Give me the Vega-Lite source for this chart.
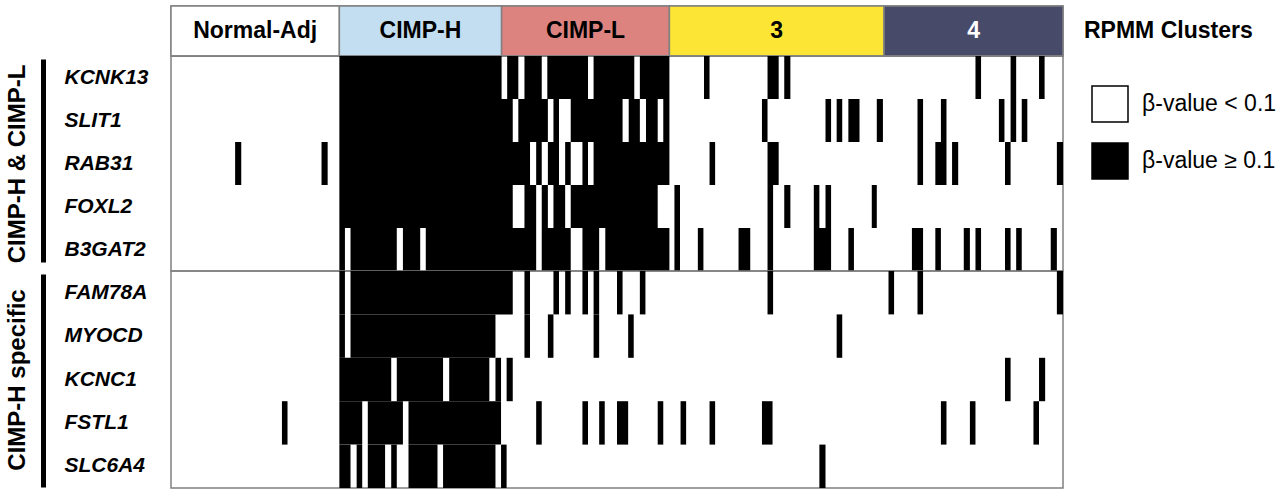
{
  "$schema": "https://vega.github.io/schema/vega-lite/v6.json",
  "padding": {"left": 4, "top": 4, "right": 2, "bottom": 4},
  "background": "white",
  "config": {
    "view": {"stroke": "#808080", "strokeWidth": 1.5},
    "font": "Liberation Sans",
    "text": {"font": "Liberation Sans"}
  },
  "datasets": {
    "clusters": [
      {"cluster": "Normal-Adj", "start": 0, "end": 30.2},
      {"cluster": "CIMP-H", "start": 30.2, "end": 59.3},
      {"cluster": "CIMP-L", "start": 59.3, "end": 89.4},
      {"cluster": "3", "start": 89.4, "end": 127.9},
      {"cluster": "4", "start": 127.9, "end": 160}
    ],
    "segments": [
      {"group": "CIMP-H & CIMP-L", "gene": "KCNK13", "start": 30.2, "end": 59.3, "beta": "β-value ≥ 0.1"},
      {"group": "CIMP-H & CIMP-L", "gene": "KCNK13", "start": 60.3, "end": 62.3, "beta": "β-value ≥ 0.1"},
      {"group": "CIMP-H & CIMP-L", "gene": "KCNK13", "start": 63.4, "end": 66.5, "beta": "β-value ≥ 0.1"},
      {"group": "CIMP-H & CIMP-L", "gene": "KCNK13", "start": 67.5, "end": 74.8, "beta": "β-value ≥ 0.1"},
      {"group": "CIMP-H & CIMP-L", "gene": "KCNK13", "start": 75.8, "end": 83.1, "beta": "β-value ≥ 0.1"},
      {"group": "CIMP-H & CIMP-L", "gene": "KCNK13", "start": 84.1, "end": 89.4, "beta": "β-value ≥ 0.1"},
      {"group": "CIMP-H & CIMP-L", "gene": "KCNK13", "start": 95.6, "end": 96.6, "beta": "β-value ≥ 0.1"},
      {"group": "CIMP-H & CIMP-L", "gene": "KCNK13", "start": 107.0, "end": 109.0, "beta": "β-value ≥ 0.1"},
      {"group": "CIMP-H & CIMP-L", "gene": "KCNK13", "start": 110.0, "end": 111.1, "beta": "β-value ≥ 0.1"},
      {"group": "CIMP-H & CIMP-L", "gene": "KCNK13", "start": 144.3, "end": 145.3, "beta": "β-value ≥ 0.1"},
      {"group": "CIMP-H & CIMP-L", "gene": "KCNK13", "start": 150.6, "end": 151.6, "beta": "β-value ≥ 0.1"},
      {"group": "CIMP-H & CIMP-L", "gene": "KCNK13", "start": 155.7, "end": 156.7, "beta": "β-value ≥ 0.1"},

      {"group": "CIMP-H & CIMP-L", "gene": "SLIT1", "start": 30.2, "end": 61.3, "beta": "β-value ≥ 0.1"},
      {"group": "CIMP-H & CIMP-L", "gene": "SLIT1", "start": 62.3, "end": 67.6, "beta": "β-value ≥ 0.1"},
      {"group": "CIMP-H & CIMP-L", "gene": "SLIT1", "start": 68.6, "end": 69.6, "beta": "β-value ≥ 0.1"},
      {"group": "CIMP-H & CIMP-L", "gene": "SLIT1", "start": 71.7, "end": 81.0, "beta": "β-value ≥ 0.1"},
      {"group": "CIMP-H & CIMP-L", "gene": "SLIT1", "start": 82.1, "end": 84.1, "beta": "β-value ≥ 0.1"},
      {"group": "CIMP-H & CIMP-L", "gene": "SLIT1", "start": 85.2, "end": 87.3, "beta": "β-value ≥ 0.1"},
      {"group": "CIMP-H & CIMP-L", "gene": "SLIT1", "start": 88.3, "end": 89.4, "beta": "β-value ≥ 0.1"},
      {"group": "CIMP-H & CIMP-L", "gene": "SLIT1", "start": 106.0, "end": 107.0, "beta": "β-value ≥ 0.1"},
      {"group": "CIMP-H & CIMP-L", "gene": "SLIT1", "start": 117.4, "end": 118.4, "beta": "β-value ≥ 0.1"},
      {"group": "CIMP-H & CIMP-L", "gene": "SLIT1", "start": 119.4, "end": 120.4, "beta": "β-value ≥ 0.1"},
      {"group": "CIMP-H & CIMP-L", "gene": "SLIT1", "start": 121.5, "end": 123.5, "beta": "β-value ≥ 0.1"},
      {"group": "CIMP-H & CIMP-L", "gene": "SLIT1", "start": 126.6, "end": 127.7, "beta": "β-value ≥ 0.1"},
      {"group": "CIMP-H & CIMP-L", "gene": "SLIT1", "start": 133.9, "end": 134.9, "beta": "β-value ≥ 0.1"},
      {"group": "CIMP-H & CIMP-L", "gene": "SLIT1", "start": 138.1, "end": 139.1, "beta": "β-value ≥ 0.1"},
      {"group": "CIMP-H & CIMP-L", "gene": "SLIT1", "start": 148.5, "end": 149.5, "beta": "β-value ≥ 0.1"},
      {"group": "CIMP-H & CIMP-L", "gene": "SLIT1", "start": 150.6, "end": 151.6, "beta": "β-value ≥ 0.1"},
      {"group": "CIMP-H & CIMP-L", "gene": "SLIT1", "start": 152.6, "end": 153.6, "beta": "β-value ≥ 0.1"},

      {"group": "CIMP-H & CIMP-L", "gene": "RAB31", "start": 11.5, "end": 12.6, "beta": "β-value ≥ 0.1"},
      {"group": "CIMP-H & CIMP-L", "gene": "RAB31", "start": 27.0, "end": 28.1, "beta": "β-value ≥ 0.1"},
      {"group": "CIMP-H & CIMP-L", "gene": "RAB31", "start": 30.2, "end": 64.4, "beta": "β-value ≥ 0.1"},
      {"group": "CIMP-H & CIMP-L", "gene": "RAB31", "start": 65.5, "end": 66.5, "beta": "β-value ≥ 0.1"},
      {"group": "CIMP-H & CIMP-L", "gene": "RAB31", "start": 67.6, "end": 69.6, "beta": "β-value ≥ 0.1"},
      {"group": "CIMP-H & CIMP-L", "gene": "RAB31", "start": 70.7, "end": 71.7, "beta": "β-value ≥ 0.1"},
      {"group": "CIMP-H & CIMP-L", "gene": "RAB31", "start": 73.8, "end": 74.8, "beta": "β-value ≥ 0.1"},
      {"group": "CIMP-H & CIMP-L", "gene": "RAB31", "start": 75.8, "end": 89.4, "beta": "β-value ≥ 0.1"},
      {"group": "CIMP-H & CIMP-L", "gene": "RAB31", "start": 96.6, "end": 97.6, "beta": "β-value ≥ 0.1"},
      {"group": "CIMP-H & CIMP-L", "gene": "RAB31", "start": 107.0, "end": 109.0, "beta": "β-value ≥ 0.1"},
      {"group": "CIMP-H & CIMP-L", "gene": "RAB31", "start": 133.9, "end": 134.9, "beta": "β-value ≥ 0.1"},
      {"group": "CIMP-H & CIMP-L", "gene": "RAB31", "start": 137.1, "end": 139.1, "beta": "β-value ≥ 0.1"},
      {"group": "CIMP-H & CIMP-L", "gene": "RAB31", "start": 140.1, "end": 141.2, "beta": "β-value ≥ 0.1"},
      {"group": "CIMP-H & CIMP-L", "gene": "RAB31", "start": 149.6, "end": 150.6, "beta": "β-value ≥ 0.1"},
      {"group": "CIMP-H & CIMP-L", "gene": "RAB31", "start": 158.9, "end": 160, "beta": "β-value ≥ 0.1"},

      {"group": "CIMP-H & CIMP-L", "gene": "FOXL2", "start": 30.2, "end": 61.3, "beta": "β-value ≥ 0.1"},
      {"group": "CIMP-H & CIMP-L", "gene": "FOXL2", "start": 63.4, "end": 65.5, "beta": "β-value ≥ 0.1"},
      {"group": "CIMP-H & CIMP-L", "gene": "FOXL2", "start": 66.5, "end": 67.6, "beta": "β-value ≥ 0.1"},
      {"group": "CIMP-H & CIMP-L", "gene": "FOXL2", "start": 68.6, "end": 70.7, "beta": "β-value ≥ 0.1"},
      {"group": "CIMP-H & CIMP-L", "gene": "FOXL2", "start": 71.7, "end": 87.3, "beta": "β-value ≥ 0.1"},
      {"group": "CIMP-H & CIMP-L", "gene": "FOXL2", "start": 90.3, "end": 91.3, "beta": "β-value ≥ 0.1"},
      {"group": "CIMP-H & CIMP-L", "gene": "FOXL2", "start": 107.0, "end": 108.0, "beta": "β-value ≥ 0.1"},
      {"group": "CIMP-H & CIMP-L", "gene": "FOXL2", "start": 110.0, "end": 111.1, "beta": "β-value ≥ 0.1"},
      {"group": "CIMP-H & CIMP-L", "gene": "FOXL2", "start": 115.3, "end": 116.3, "beta": "β-value ≥ 0.1"},
      {"group": "CIMP-H & CIMP-L", "gene": "FOXL2", "start": 117.4, "end": 118.4, "beta": "β-value ≥ 0.1"},
      {"group": "CIMP-H & CIMP-L", "gene": "FOXL2", "start": 125.7, "end": 126.6, "beta": "β-value ≥ 0.1"},

      {"group": "CIMP-H & CIMP-L", "gene": "B3GAT2", "start": 30.2, "end": 31.2, "beta": "β-value ≥ 0.1"},
      {"group": "CIMP-H & CIMP-L", "gene": "B3GAT2", "start": 32.2, "end": 40.5, "beta": "β-value ≥ 0.1"},
      {"group": "CIMP-H & CIMP-L", "gene": "B3GAT2", "start": 41.6, "end": 44.7, "beta": "β-value ≥ 0.1"},
      {"group": "CIMP-H & CIMP-L", "gene": "B3GAT2", "start": 45.7, "end": 65.5, "beta": "β-value ≥ 0.1"},
      {"group": "CIMP-H & CIMP-L", "gene": "B3GAT2", "start": 66.5, "end": 71.7, "beta": "β-value ≥ 0.1"},
      {"group": "CIMP-H & CIMP-L", "gene": "B3GAT2", "start": 73.8, "end": 76.8, "beta": "β-value ≥ 0.1"},
      {"group": "CIMP-H & CIMP-L", "gene": "B3GAT2", "start": 77.9, "end": 89.4, "beta": "β-value ≥ 0.1"},
      {"group": "CIMP-H & CIMP-L", "gene": "B3GAT2", "start": 90.3, "end": 91.3, "beta": "β-value ≥ 0.1"},
      {"group": "CIMP-H & CIMP-L", "gene": "B3GAT2", "start": 94.5, "end": 95.5, "beta": "β-value ≥ 0.1"},
      {"group": "CIMP-H & CIMP-L", "gene": "B3GAT2", "start": 101.8, "end": 103.9, "beta": "β-value ≥ 0.1"},
      {"group": "CIMP-H & CIMP-L", "gene": "B3GAT2", "start": 107.0, "end": 108.0, "beta": "β-value ≥ 0.1"},
      {"group": "CIMP-H & CIMP-L", "gene": "B3GAT2", "start": 115.3, "end": 118.4, "beta": "β-value ≥ 0.1"},
      {"group": "CIMP-H & CIMP-L", "gene": "B3GAT2", "start": 121.5, "end": 122.5, "beta": "β-value ≥ 0.1"},
      {"group": "CIMP-H & CIMP-L", "gene": "B3GAT2", "start": 132.9, "end": 134.9, "beta": "β-value ≥ 0.1"},
      {"group": "CIMP-H & CIMP-L", "gene": "B3GAT2", "start": 137.1, "end": 138.1, "beta": "β-value ≥ 0.1"},
      {"group": "CIMP-H & CIMP-L", "gene": "B3GAT2", "start": 142.2, "end": 143.3, "beta": "β-value ≥ 0.1"},
      {"group": "CIMP-H & CIMP-L", "gene": "B3GAT2", "start": 144.3, "end": 145.3, "beta": "β-value ≥ 0.1"},
      {"group": "CIMP-H & CIMP-L", "gene": "B3GAT2", "start": 149.6, "end": 150.6, "beta": "β-value ≥ 0.1"},
      {"group": "CIMP-H & CIMP-L", "gene": "B3GAT2", "start": 151.6, "end": 152.6, "beta": "β-value ≥ 0.1"},
      {"group": "CIMP-H & CIMP-L", "gene": "B3GAT2", "start": 157.8, "end": 158.9, "beta": "β-value ≥ 0.1"},

      {"group": "CIMP-H specific", "gene": "FAM78A", "start": 30.2, "end": 31.2, "beta": "β-value ≥ 0.1"},
      {"group": "CIMP-H specific", "gene": "FAM78A", "start": 32.2, "end": 61.3, "beta": "β-value ≥ 0.1"},
      {"group": "CIMP-H specific", "gene": "FAM78A", "start": 63.4, "end": 64.4, "beta": "β-value ≥ 0.1"},
      {"group": "CIMP-H specific", "gene": "FAM78A", "start": 68.6, "end": 69.6, "beta": "β-value ≥ 0.1"},
      {"group": "CIMP-H specific", "gene": "FAM78A", "start": 70.7, "end": 71.7, "beta": "β-value ≥ 0.1"},
      {"group": "CIMP-H specific", "gene": "FAM78A", "start": 73.8, "end": 74.8, "beta": "β-value ≥ 0.1"},
      {"group": "CIMP-H specific", "gene": "FAM78A", "start": 75.8, "end": 76.8, "beta": "β-value ≥ 0.1"},
      {"group": "CIMP-H specific", "gene": "FAM78A", "start": 80.0, "end": 81.0, "beta": "β-value ≥ 0.1"},
      {"group": "CIMP-H specific", "gene": "FAM78A", "start": 84.1, "end": 85.1, "beta": "β-value ≥ 0.1"},
      {"group": "CIMP-H specific", "gene": "FAM78A", "start": 107.0, "end": 108.0, "beta": "β-value ≥ 0.1"},
      {"group": "CIMP-H specific", "gene": "FAM78A", "start": 128.7, "end": 129.7, "beta": "β-value ≥ 0.1"},
      {"group": "CIMP-H specific", "gene": "FAM78A", "start": 133.9, "end": 134.9, "beta": "β-value ≥ 0.1"},
      {"group": "CIMP-H specific", "gene": "FAM78A", "start": 158.9, "end": 160, "beta": "β-value ≥ 0.1"},

      {"group": "CIMP-H specific", "gene": "MYOCD", "start": 30.2, "end": 31.2, "beta": "β-value ≥ 0.1"},
      {"group": "CIMP-H specific", "gene": "MYOCD", "start": 32.2, "end": 58.2, "beta": "β-value ≥ 0.1"},
      {"group": "CIMP-H specific", "gene": "MYOCD", "start": 63.4, "end": 64.4, "beta": "β-value ≥ 0.1"},
      {"group": "CIMP-H specific", "gene": "MYOCD", "start": 67.6, "end": 68.6, "beta": "β-value ≥ 0.1"},
      {"group": "CIMP-H specific", "gene": "MYOCD", "start": 75.8, "end": 76.8, "beta": "β-value ≥ 0.1"},
      {"group": "CIMP-H specific", "gene": "MYOCD", "start": 82.0, "end": 83.0, "beta": "β-value ≥ 0.1"},
      {"group": "CIMP-H specific", "gene": "MYOCD", "start": 119.4, "end": 120.4, "beta": "β-value ≥ 0.1"},

      {"group": "CIMP-H specific", "gene": "KCNC1", "start": 30.2, "end": 39.5, "beta": "β-value ≥ 0.1"},
      {"group": "CIMP-H specific", "gene": "KCNC1", "start": 40.5, "end": 48.8, "beta": "β-value ≥ 0.1"},
      {"group": "CIMP-H specific", "gene": "KCNC1", "start": 49.9, "end": 57.1, "beta": "β-value ≥ 0.1"},
      {"group": "CIMP-H specific", "gene": "KCNC1", "start": 58.2, "end": 59.2, "beta": "β-value ≥ 0.1"},
      {"group": "CIMP-H specific", "gene": "KCNC1", "start": 60.2, "end": 61.3, "beta": "β-value ≥ 0.1"},
      {"group": "CIMP-H specific", "gene": "KCNC1", "start": 149.6, "end": 150.6, "beta": "β-value ≥ 0.1"},
      {"group": "CIMP-H specific", "gene": "KCNC1", "start": 155.7, "end": 156.8, "beta": "β-value ≥ 0.1"},

      {"group": "CIMP-H specific", "gene": "FSTL1", "start": 19.9, "end": 20.9, "beta": "β-value ≥ 0.1"},
      {"group": "CIMP-H specific", "gene": "FSTL1", "start": 30.2, "end": 34.3, "beta": "β-value ≥ 0.1"},
      {"group": "CIMP-H specific", "gene": "FSTL1", "start": 35.3, "end": 41.6, "beta": "β-value ≥ 0.1"},
      {"group": "CIMP-H specific", "gene": "FSTL1", "start": 42.6, "end": 59.2, "beta": "β-value ≥ 0.1"},
      {"group": "CIMP-H specific", "gene": "FSTL1", "start": 65.5, "end": 66.5, "beta": "β-value ≥ 0.1"},
      {"group": "CIMP-H specific", "gene": "FSTL1", "start": 73.8, "end": 74.8, "beta": "β-value ≥ 0.1"},
      {"group": "CIMP-H specific", "gene": "FSTL1", "start": 76.8, "end": 77.8, "beta": "β-value ≥ 0.1"},
      {"group": "CIMP-H specific", "gene": "FSTL1", "start": 80.0, "end": 82.0, "beta": "β-value ≥ 0.1"},
      {"group": "CIMP-H specific", "gene": "FSTL1", "start": 87.3, "end": 88.3, "beta": "β-value ≥ 0.1"},
      {"group": "CIMP-H specific", "gene": "FSTL1", "start": 91.4, "end": 92.4, "beta": "β-value ≥ 0.1"},
      {"group": "CIMP-H specific", "gene": "FSTL1", "start": 96.6, "end": 97.6, "beta": "β-value ≥ 0.1"},
      {"group": "CIMP-H specific", "gene": "FSTL1", "start": 106.0, "end": 107.9, "beta": "β-value ≥ 0.1"},
      {"group": "CIMP-H specific", "gene": "FSTL1", "start": 138.1, "end": 139.1, "beta": "β-value ≥ 0.1"},
      {"group": "CIMP-H specific", "gene": "FSTL1", "start": 143.3, "end": 144.3, "beta": "β-value ≥ 0.1"},
      {"group": "CIMP-H specific", "gene": "FSTL1", "start": 154.7, "end": 155.7, "beta": "β-value ≥ 0.1"},

      {"group": "CIMP-H specific", "gene": "SLC6A4", "start": 30.2, "end": 32.2, "beta": "β-value ≥ 0.1"},
      {"group": "CIMP-H specific", "gene": "SLC6A4", "start": 33.3, "end": 34.3, "beta": "β-value ≥ 0.1"},
      {"group": "CIMP-H specific", "gene": "SLC6A4", "start": 35.3, "end": 38.4, "beta": "β-value ≥ 0.1"},
      {"group": "CIMP-H specific", "gene": "SLC6A4", "start": 39.5, "end": 40.5, "beta": "β-value ≥ 0.1"},
      {"group": "CIMP-H specific", "gene": "SLC6A4", "start": 42.6, "end": 47.8, "beta": "β-value ≥ 0.1"},
      {"group": "CIMP-H specific", "gene": "SLC6A4", "start": 48.8, "end": 58.2, "beta": "β-value ≥ 0.1"},
      {"group": "CIMP-H specific", "gene": "SLC6A4", "start": 59.2, "end": 60.2, "beta": "β-value ≥ 0.1"},
      {"group": "CIMP-H specific", "gene": "SLC6A4", "start": 116.3, "end": 117.4, "beta": "β-value ≥ 0.1"}
    ]
  },
  "vconcat": [
    {
      "width": 892,
      "height": 50,
      "data": {"name": "clusters"},
      "layer": [
        {
          "mark": {"type": "rect", "stroke": "#808080", "strokeWidth": 1.5},
          "encoding": {
            "x": {"field": "start", "type": "quantitative", "scale": {"domain": [0, 160], "nice": false, "zero": false}, "axis": null},
            "x2": {"field": "end"},
            "color": {
              "field": "cluster", "type": "nominal",
              "scale": {"domain": ["Normal-Adj", "CIMP-H", "CIMP-L", "3", "4"], "range": ["#ffffff", "#c2def0", "#dc8380", "#fce535", "#484a6a"]},
              "legend": null
            }
          }
        },
        {
          "transform": [{"fold": ["start", "end"], "as": ["edge", "pos"]}],
          "mark": {"type": "text", "font": "Liberation Sans", "fontSize": 23, "fontWeight": "bold", "baseline": "middle", "align": "center"},
          "encoding": {
            "x": {"field": "pos", "aggregate": "mean", "type": "quantitative"},
            "text": {"field": "cluster"},
            "color": {"condition": {"test": "datum.cluster === '4'", "value": "white"}, "value": "black"}
          }
        }
      ]
    },
    {
      "width": 892,
      "height": 215,
      "data": {"name": "segments"},
      "transform": [{"filter": "datum.group === 'CIMP-H & CIMP-L'"}],
      "mark": {"type": "rect"},
      "encoding": {
        "x": {"field": "start", "type": "quantitative", "scale": {"domain": [0, 160], "nice": false, "zero": false}, "axis": null},
        "x2": {"field": "end"},
        "y": {
          "field": "gene", "type": "nominal",
          "sort": ["KCNK13", "SLIT1", "RAB31", "FOXL2", "B3GAT2"],
          "scale": {"paddingInner": 0, "paddingOuter": 0},
          "axis": {
            "orient": "left", "offset": 128, "title": "CIMP-H & CIMP-L",
            "domainColor": "black", "domainWidth": 5, "domainDash": [203, 12], "domainDashOffset": 212,
            "ticks": false, "tickSize": 0,
            "labelAlign": "left", "labelPadding": -21, "labelFont": "Liberation Sans", "labelFontSize": 21,
            "labelFontWeight": "bold", "labelFontStyle": "italic", "labelColor": "black", "labelLimit": 0,
            "titleFont": "Liberation Sans", "titleFontSize": 24, "titleFontWeight": "bold", "titleColor": "black",
            "titlePadding": 19, "titleBaseline": "alphabetic"
          }
        },
        "fill": {
          "field": "beta", "type": "nominal",
          "scale": {"domain": ["β-value < 0.1", "β-value ≥ 0.1"], "range": ["white", "black"]},
          "legend": {
            "title": "RPMM Clusters", "orient": "right", "offset": 19,
            "symbolType": "square", "symbolSize": 1296, "symbolStrokeColor": "black", "symbolStrokeWidth": 1.5, "symbolOffset": 7,
            "labelFont": "Liberation Sans", "labelFontSize": 23, "labelOffset": 13, "labelColor": "black", "labelLimit": 0,
            "titleFont": "Liberation Sans", "titleFontSize": 23, "titleFontWeight": "bold", "titleColor": "black", "titleLimit": 0,
            "titleLineHeight": 50, "titleBaseline": "line-top", "titlePadding": 56, "rowPadding": 15
          }
        }
      }
    },
    {
      "width": 892,
      "height": 217,
      "data": {"name": "segments"},
      "transform": [{"filter": "datum.group === 'CIMP-H specific'"}],
      "mark": {"type": "rect"},
      "encoding": {
        "x": {"field": "start", "type": "quantitative", "scale": {"domain": [0, 160], "nice": false, "zero": false}, "axis": null},
        "x2": {"field": "end"},
        "y": {
          "field": "gene", "type": "nominal",
          "sort": ["FAM78A", "MYOCD", "KCNC1", "FSTL1", "SLC6A4"],
          "scale": {"paddingInner": 0, "paddingOuter": 0},
          "axis": {
            "orient": "left", "offset": 128, "title": "CIMP-H specific",
            "domainColor": "black", "domainWidth": 5, "domainDash": [213, 4], "domainDashOffset": 214,
            "ticks": false, "tickSize": 0,
            "labelAlign": "left", "labelPadding": -21, "labelFont": "Liberation Sans", "labelFontSize": 21,
            "labelFontWeight": "bold", "labelFontStyle": "italic", "labelColor": "black", "labelLimit": 0,
            "titleFont": "Liberation Sans", "titleFontSize": 24, "titleFontWeight": "bold", "titleColor": "black",
            "titlePadding": 19, "titleBaseline": "alphabetic"
          }
        },
        "fill": {
          "field": "beta", "type": "nominal",
          "scale": {"domain": ["β-value < 0.1", "β-value ≥ 0.1"], "range": ["white", "black"]},
          "legend": {
            "title": "RPMM Clusters", "orient": "right", "offset": 19,
            "symbolType": "square", "symbolSize": 1296, "symbolStrokeColor": "black", "symbolStrokeWidth": 1.5, "symbolOffset": 7,
            "labelFont": "Liberation Sans", "labelFontSize": 23, "labelOffset": 13, "labelColor": "black", "labelLimit": 0,
            "titleFont": "Liberation Sans", "titleFontSize": 23, "titleFontWeight": "bold", "titleColor": "black", "titleLimit": 0,
            "titleLineHeight": 50, "titleBaseline": "line-top", "titlePadding": 56, "rowPadding": 15
          }
        }
      }
    }
  ],
  "spacing": 0,
  "bounds": "flush"
}
